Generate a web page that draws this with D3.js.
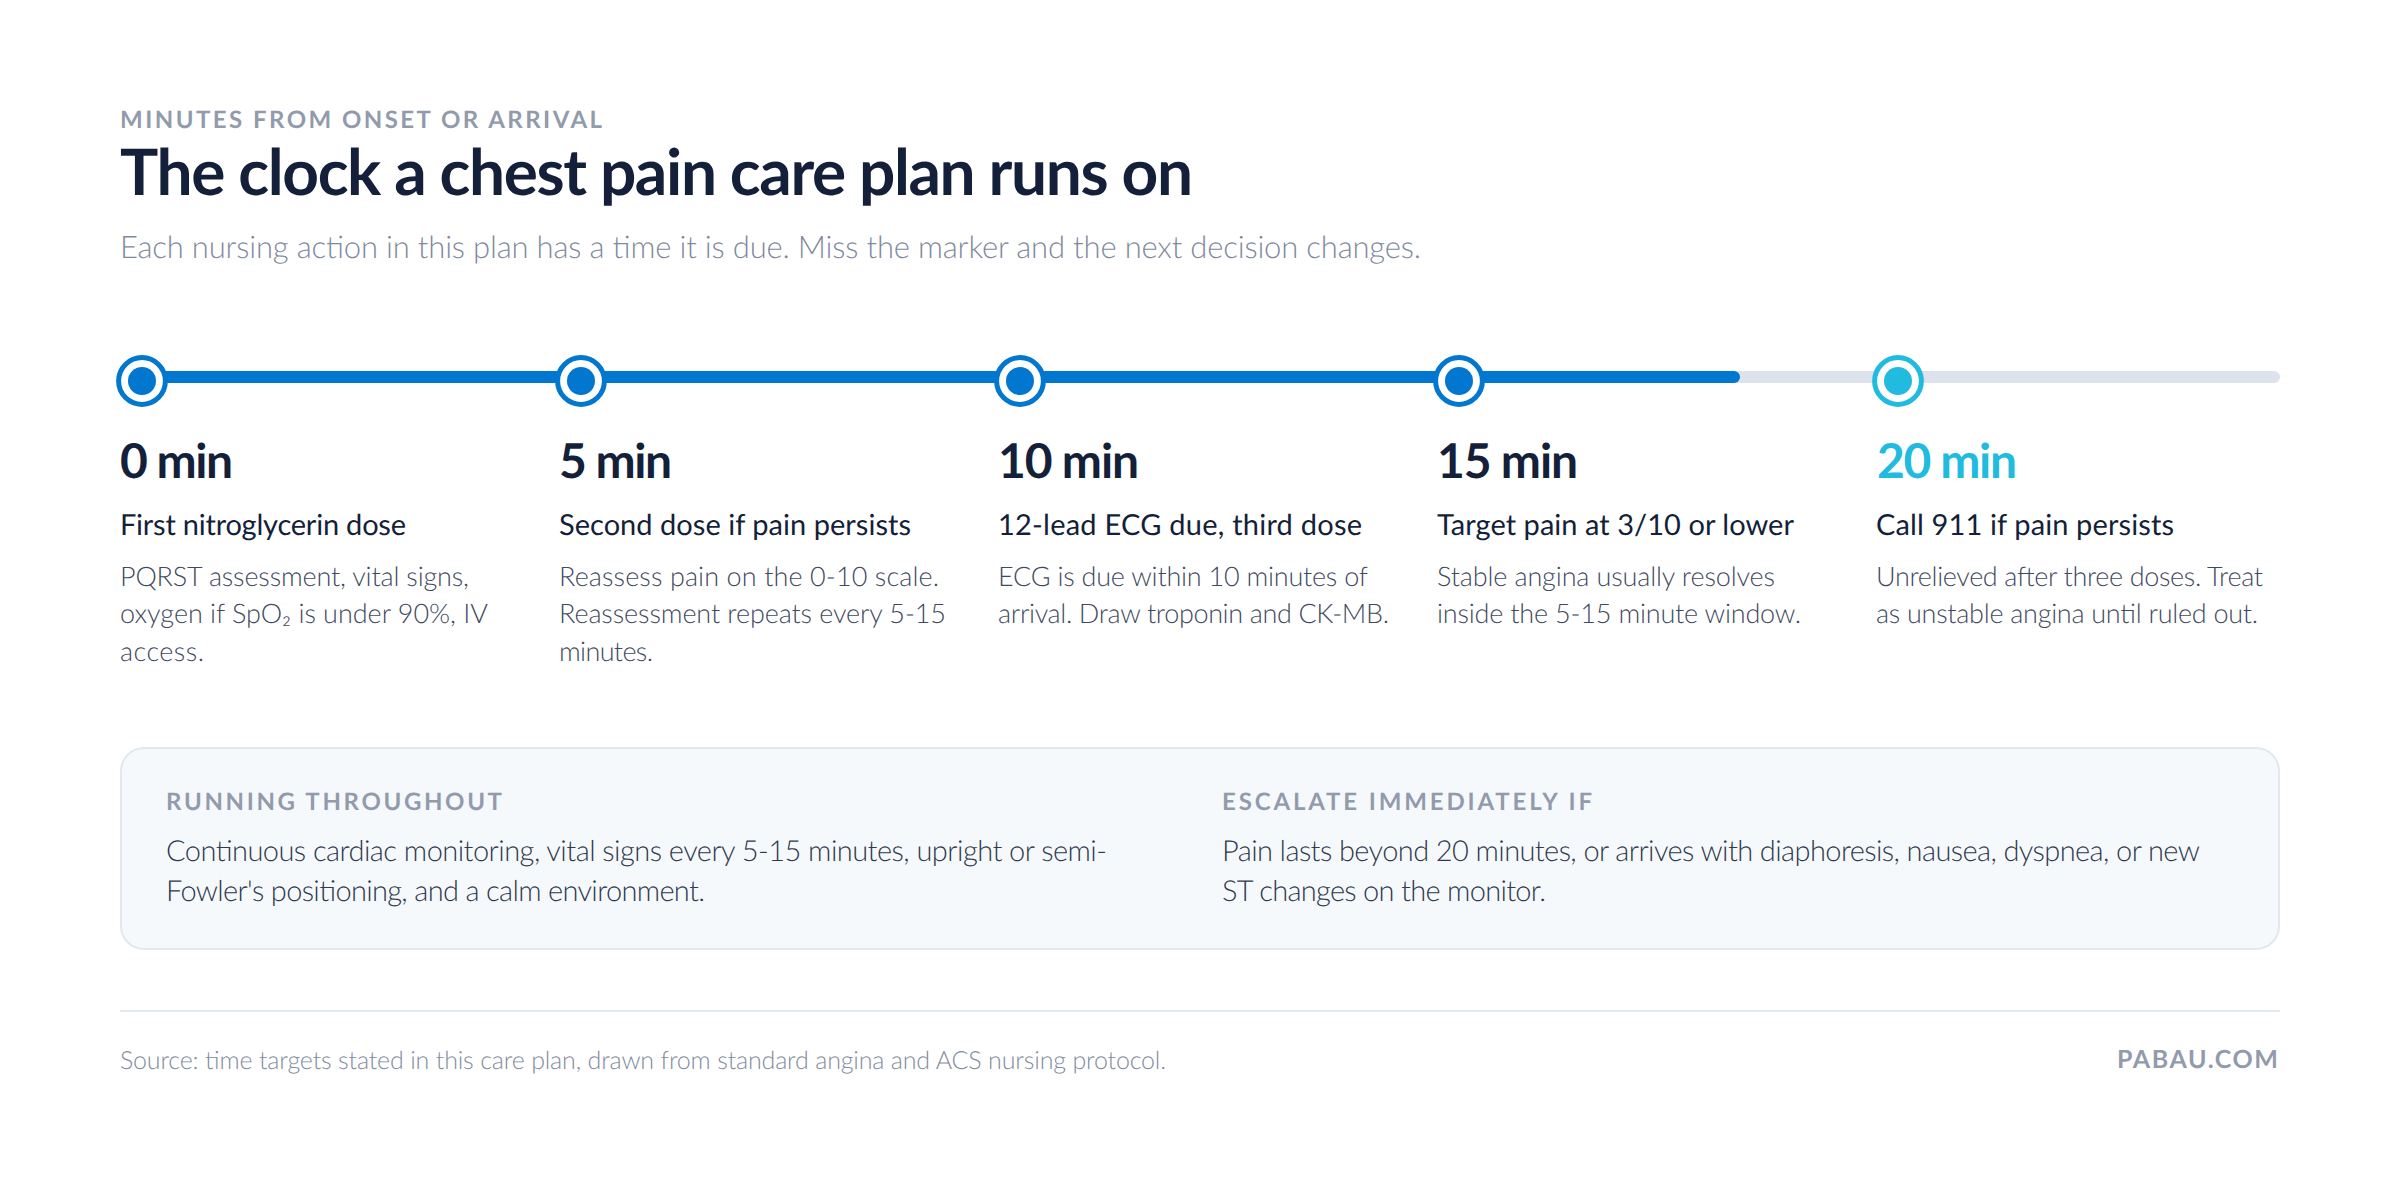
<!DOCTYPE html>
<html><head><meta charset="utf-8">
<script src="https://cdn.jsdelivr.net/npm/d3@7"></script>
<style>
html,body{margin:0;padding:0;background:#fff}
svg{display:block}
text{font-family:Lato,"Noto Sans",sans-serif;text-rendering:geometricPrecision}
</style></head><body>
<svg id="c" width="2400" height="1182"></svg>
<script>
const minutes=[0,5,10,15,20];
const timeLabels=["0 min","5 min","10 min","15 min","20 min"];
const headings=["First nitroglycerin dose","Second dose if pain persists","12-lead ECG due, third dose","Target pain at 3/10 or lower","Call 911 if pain persists"];
const bodies=[
 ["PQRST assessment, vital signs,","oxygen if SpO₂ is under 90%, IV","access."],
 ["Reassess pain on the 0-10 scale.","Reassessment repeats every 5-15","minutes."],
 ["ECG is due within 10 minutes of","arrival. Draw troponin and CK-MB."],
 ["Stable angina usually resolves","inside the 5-15 minute window."],
 ["Unrelieved after three doses. Treat","as unstable angina until ruled out."]];
const progressShare=0.75;
const panelHeads=["RUNNING THROUGHOUT","ESCALATE IMMEDIATELY IF"];
const panelLines=[
 ["Continuous cardiac monitoring, vital signs every 5-15 minutes, upright or semi-","Fowler's positioning, and a calm environment."],
 ["Pain lasts beyond 20 minutes, or arrives with diaphoresis, nausea, dyspnea, or new","ST changes on the monitor."]];
const eyebrow="MINUTES FROM ONSET OR ARRIVAL",
 title="The clock a chest pain care plan runs on",
 subtitle="Each nursing action in this plan has a time it is due. Miss the marker and the next decision changes.",
 source="Source: time targets stated in this care plan, drawn from standard angina and ACS nursing protocol.",
 brand="PABAU.COM";
/* measured line widths, so the substitute font occupies the reference's extent */
const W={eyebrow:482,title:1073,subtitle:1301,source:1046,brand:161,
 time:[113,113,141,141,140],
 head:[286,352,364,357,298],
 body:[[349,368,84],[380,387,94],[370,391],[338,364],[387,382]],
 panelHead:[336,370],
 panel:[[941,539],[978,324]]};
const navy="#141f3a",blue="#0277cf",cyan="#22bbe0",grey="#929bac",slate="#3f4a5e";

const svg=d3.select("#c");
const x=d3.scaleLinear().domain([0,20]).range([120,1876]);
const track=d3.scaleLinear().domain([0,1]).range([120,2280]);
function T(s,px,py,o,w){
 const t=svg.append("text").attr("x",px).attr("y",py).text(s)
  .attr("font-size",o.size).attr("font-weight",o.weight).attr("fill",o.fill);
 if(w)t.attr("textLength",w).attr("lengthAdjust","spacing");
 return t;
}
T(eyebrow,120,128,{size:24,weight:700,fill:grey},W.eyebrow);
T(title,120,195,{size:64,weight:700,fill:navy},W.title);
T(subtitle,120,258,{size:31,weight:300,fill:"#7f8a9e"},W.subtitle);

svg.append("rect").attr("x",track(0)).attr("y",371).attr("width",track(1)-track(0)).attr("height",12).attr("rx",6).attr("fill","#dde3ec");
svg.append("rect").attr("x",track(0)).attr("y",371).attr("width",track(progressShare)-track(0)).attr("height",12).attr("rx",6).attr("fill",blue);

const col=d=>d===20?cyan:blue;
svg.selectAll("circle.ring").data(minutes).join("circle").attr("class","ring")
 .attr("cx",d=>x(d)+22).attr("cy",381).attr("r",23.4).attr("fill","#fff").attr("stroke",col).attr("stroke-width",5);
svg.selectAll("circle.dot").data(minutes).join("circle").attr("class","dot")
 .attr("cx",d=>x(d)+22).attr("cy",381).attr("r",14).attr("fill",col);

minutes.forEach((m,i)=>{
 T(timeLabels[i],x(m)+(i===4?1:0),478,{size:48,weight:700,fill:m===20?cyan:navy},W.time[i]);
 T(headings[i],x(m),535,{size:29,weight:400,fill:navy},W.head[i]);
 bodies[i].forEach((l,j)=>T(l,x(m),586+j*37.4,{size:27,weight:300,fill:slate},W.body[i][j]));
});

svg.append("rect").attr("x",121).attr("y",748).attr("width",2158).attr("height",201).attr("rx",23)
 .attr("fill","#f6f9fc").attr("stroke","#e2e8f0").attr("stroke-width",2);
[166,1222].forEach((px,i)=>{
 T(panelHeads[i],px,810,{size:24,weight:700,fill:grey},W.panelHead[i]);
 panelLines[i].forEach((l,j)=>T(l,px,861+j*40,{size:29,weight:300,fill:"#2f3a4e"},W.panel[i][j]));
});
svg.append("rect").attr("x",120).attr("y",1010).attr("width",2160).attr("height",2).attr("fill","#e2e8f0");
T(source,120,1069,{size:25,weight:300,fill:"#828c9e"},W.source);
T(brand,2117,1068,{size:25,weight:700,fill:grey},W.brand);
</script>
</body></html>
